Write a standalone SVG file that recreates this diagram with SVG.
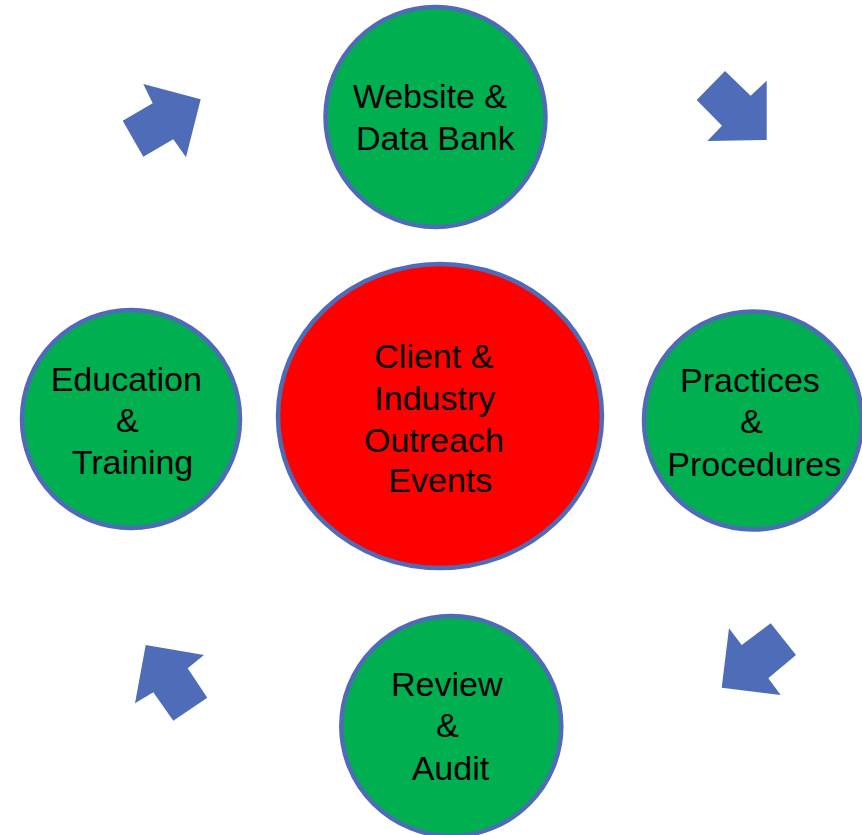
<svg xmlns="http://www.w3.org/2000/svg" width="862" height="835" viewBox="0 0 862 835">
<style>
.bg{fill:#ffffff}
.node{stroke:#4F6BB8;stroke-width:4.5}
.green{fill:#00B050}
.red{fill:#FF0000}
.arrow{fill:#4E6CB8;stroke:none}
text{font-family:"Liberation Sans",Arial,sans-serif;font-size:34px;fill:#000000}
</style>
<rect class="bg" x="0" y="0" width="862" height="835"/>
<g id="connectors">
<polygon class="arrow" points="143.3,84 200.7,99.3 186,157.3 173.3,139.3 143.3,156.7 122.7,120.7 152.7,103.3"/>
<polygon class="arrow" points="725,71 750.7,95.7 766.7,80.7 766.7,140 707.3,141 722,125.7 696.7,100"/>
<polygon class="arrow" points="770.7,623.3 796,655 768.3,678.3 780.7,695 721.7,687.7 729,628.3 741.7,645"/>
<polygon class="arrow" points="145.7,645 204,655 187.7,668.3 207.3,697.7 173.3,720.7 153.3,692.3 135,703.3"/>
</g>
<g id="node-website">
<circle class="node green" cx="435.5" cy="117" r="110"/>
<text x="352.7" y="108.3">Website &amp;</text>
<text x="356" y="150">Data Bank</text>
</g>
<g id="node-center">
<ellipse class="node red" cx="440" cy="416" rx="162" ry="152"/>
<text x="374.3" y="367.7">Client &amp;</text>
<text x="374.3" y="410">Industry</text>
<text x="364" y="451.7">Outreach</text>
<text x="388.3" y="492.3">Events</text>
</g>
<g id="node-practices">
<circle class="node green" cx="753" cy="420.5" r="109"/>
<text x="680" y="391.7">Practices</text>
<text x="740" y="433.3">&amp;</text>
<text x="667.3" y="475.7">Procedures</text>
</g>
<g id="node-review">
<circle class="node green" cx="451.3" cy="726" r="110"/>
<text x="391" y="695.7">Review</text>
<text x="436" y="737">&amp;</text>
<text x="411.7" y="780">Audit</text>
</g>
<g id="node-education">
<circle class="node green" cx="131" cy="419" r="109"/>
<text x="50.7" y="390.7">Education</text>
<text x="116" y="431.7">&amp;</text>
<text x="71.7" y="474">Training</text>
</g>
</svg>
